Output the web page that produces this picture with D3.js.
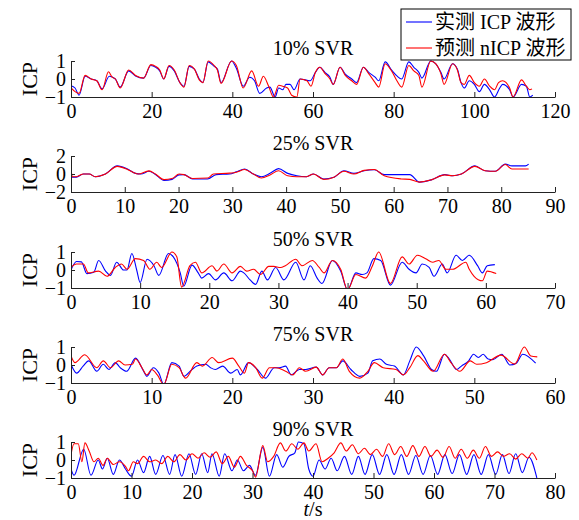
<!DOCTYPE html>
<html>
<head>
<meta charset="utf-8">
<script src="https://cdn.jsdelivr.net/npm/d3@7"></script>
<style>
    body { margin: 0; background: #fff; }
    text { font-family: "Liberation Serif", "Times New Roman", "Noto Sans CJK SC", serif; }
</style>
</head>
<body>
<svg id="chart" width="579" height="520"></svg>
<script>
// panel setup
const panelTitles = ["10% SVR", "25% SVR", "50% SVR", "75% SVR", "90% SVR"];
const xMaxes = [120, 90, 70, 60, 80];
const xTickStep = [20, 10, 10, 10, 10];
const yLimits = [1, 2, 1, 1, 1];
const seriesNames = ["实测 ICP 波形", "预测 nICP 波形"];
const seriesColors = ["#0000ff", "#ff0000"];

// [t, ICP] turning points
const icp10 = [[0,-0.37],[1,-0.5],[2,-0.9],[3.5,0.15],[5,0],[6.4,-0.1],[7.7,-0.55],[9.5,0.15],[11,0],[12.2,-0.45],[14.3,0.45],[16,0.17],[18,0.05],[19.8,0.75],[21,0.65],[22,0.45],[23,0],[24.3,0.7],[25.6,0.45],[27,-0.2],[28,-0.4],[29.3,0.7],[30.6,0.55],[31.8,0],[32.7,-0.2],[34,0.95],[35.5,0.7],[36.3,0.55],[37.2,-0.2],[39.8,1],[41,0.6],[42.7,-0.4],[44.3,0.1],[45.5,-0.1],[46.8,-0.8],[48.5,-0.5],[49.3,-0.45],[50.6,-1],[51.5,-0.5],[52.5,-0.6],[53.3,-0.3],[54.3,-0.3],[55.3,-0.6],[56.8,0],[59.3,-0.1],[60.6,0.37],[61.7,0.65],[63,0.35],[64.2,0.1],[65,-0.3],[66.7,0.65],[68,0.27],[69.6,0],[70.8,-0.2],[72.5,0.65],[73.8,0.37],[75.4,0.1],[76.3,-0.1],[77.9,0.95],[79.6,0.46],[80.8,0.17],[82,0],[83.75,0.95],[85,0.65],[86.25,0.37],[87,0.05],[89.2,1],[90.4,0.85],[91.7,0.37],[92.5,0],[94.6,0.85],[95.8,0.55],[96.7,-0.2],[97.5,-0.5],[98.75,-0.1],[100,-0.3],[101.25,-0.7],[102.5,-0.3],[103.8,-0.6],[105,-1],[106.3,-0.5],[107,-0.3],[108.75,-0.6],[109.6,-1],[111.7,-0.3],[112.9,-0.4],[113.75,-1],[114.5,-0.9]];
const nicp10 = [[0,-0.5],[1,-0.7],[2,-0.8],[3.5,0.2],[5,0],[6.4,-0.1],[7.7,-0.6],[9.3,0.4],[10.2,0.1],[11,0],[12.2,-0.5],[14.3,0.5],[16,0.2],[18,0.05],[19.8,0.8],[21,0.7],[22,0.5],[23,0],[24.3,0.75],[25.6,0.5],[27,-0.2],[28,-0.45],[29.3,0.75],[30.6,0.55],[31.8,-0.05],[32.7,-0.2],[34,1],[35.5,0.75],[36.3,0.5],[37.2,-0.25],[39.8,1],[41,0.75],[42.7,-0.5],[44.8,0.45],[46.5,-0.4],[47.7,0.15],[49,-0.4],[50.2,-1],[51.5,-0.35],[52.5,-0.4],[53.7,-0.5],[54.7,-0.9],[56,-1],[56.8,0],[58.5,-0.1],[59.5,-0.4],[60.6,0.37],[61.7,0.65],[63,0.3],[64.2,0],[65,-0.3],[66.7,0.65],[68,0.2],[69.6,-0.1],[70.8,-0.3],[72.5,0.65],[73.8,0.3],[75.4,-0.2],[76.3,-0.45],[77.9,0.85],[79.6,0.4],[80.8,-0.1],[82,-0.45],[83.75,0.75],[85,0.45],[86.25,0.2],[87,-0.45],[89.2,1],[90.4,0.85],[91.7,0.3],[92.5,-0.3],[94.6,0.85],[95.8,0.5],[96.7,-0.2],[97.5,-0.3],[98.75,0.2],[100,-0.2],[101.25,-0.4],[102.5,0],[103.8,-0.4],[105,-0.6],[106,-0.2],[107,-0.1],[108.75,-0.5],[109.6,-1],[111.7,-0.05],[112.9,-0.4],[113.75,-0.6],[114.3,-0.55]];

const icp25 = [[0,-0.35],[1,-0.35],[2.3,0],[3.4,0],[4.5,-0.3],[6.4,0],[8.6,0.9],[10.5,0.55],[12,0.07],[13,0],[14.5,0.3],[15.7,-0.05],[17.3,-0.72],[18.8,-0.6],[20.1,-0.1],[21,-0.07],[22.6,-0.55],[25.4,-0.55],[27,-0.07],[29.5,0],[30.75,0.25],[32.3,0.55],[33.9,0],[35.4,-0.3],[37,0.07],[38.6,0.6],[40.3,0.07],[42,-0.2],[43.8,-0.3],[45.1,0],[47,-0.55],[48.9,-0.35],[50.75,0.36],[52.6,0.07],[54.5,0.36],[56.4,0.47],[58.25,-0.07],[63,-0.07],[64.8,-0.9],[67,-0.65],[69.5,-0.07],[71,-0.2],[72.6,0],[75.1,0.9],[77,0.36],[78.9,0.3],[80.75,1.1],[82,0.9],[84.5,0.9],[85.1,1.1]];
const nicp25 = [[0,0.5],[0.3,-0.3],[1,-0.3],[2.3,0],[3.4,0],[4.5,-0.3],[6.4,0],[8.6,0.85],[10.5,0.5],[11.5,0.2],[12.5,0],[14.5,0.35],[15.7,0],[17.3,-0.62],[18.8,-0.5],[20.1,0],[21,-0.07],[22.6,-0.5],[25.4,-0.45],[26.5,0],[29.5,0.1],[30.75,0.2],[32.3,0.5],[33.9,0],[35.4,-0.45],[37,-0.1],[38.6,0.36],[40.3,-0.2],[42,-0.3],[43.8,-0.3],[45.1,0],[47,-0.6],[48.9,-0.35],[50.75,0.3],[52.6,0],[54.5,0.4],[56.4,0.5],[58.25,-0.2],[61.4,-0.55],[63,-0.6],[64.8,-0.9],[67,-0.65],[69.5,-0.1],[71,-0.2],[72.6,0],[75.1,0.85],[77,0.36],[78.9,0.3],[80.75,1.05],[82,0.55],[85.1,0.55]];

const icp50 = [[0,0],[0.8,0.47],[1.5,0.45],[2.3,-0.2],[3.3,-0.12],[4,0.53],[5,-0.06],[5.7,-0.3],[6.6,0.43],[7.6,0],[8.1,0],[8.8,0.92],[9.5,0],[10,-0.7],[11,0.6],[12,0.24],[12.7,-0.3],[14.1,0.92],[14.8,0.73],[15.8,-0.16],[16.3,-0.9],[17.5,0.27],[18.4,-0.16],[18.9,-0.45],[19.9,-0.2],[20.9,-0.55],[22.1,-0.16],[23.3,-0.6],[24.5,-0.06],[25,-0.16],[25.9,-0.55],[26.7,-0.8],[27.6,-0.06],[28.4,-0.55],[29.6,0.14],[30.8,-0.55],[32.5,0.43],[33.7,-0.55],[34.6,0.24],[35.6,-0.45],[36.3,-0.75],[37.8,0.53],[39,-0.06],[40,-1.1],[41.2,-0.16],[42.1,-0.25],[42.8,-0.16],[43.8,0.63],[44.8,0.53],[46.2,-0.84],[47.9,0.43],[48.9,0.04],[49.9,-0.16],[50.8,0.33],[51.8,0.14],[52.5,-0.35],[53.7,0.33],[54.4,-0.16],[55.7,0.82],[56.6,0.53],[57.6,0.82],[58.8,0.24],[59.5,-0.16],[60.2,0.24],[61.3,0.3]];
const nicp50 = [[0,0.14],[0.8,0.33],[1.8,0.33],[2.5,-0.16],[4,-0.06],[5.2,-0.35],[6.4,0.14],[7.3,0.33],[8.1,0.04],[9.3,0.63],[10.5,0.53],[11.4,0.04],[12.4,0.43],[13.1,0.14],[14.6,1],[15.3,0.73],[16,-0.95],[17.2,0.24],[18,0.43],[18.9,-0.16],[20.4,0.24],[21.1,-0.06],[22.1,0.33],[23.3,-0.16],[24.5,0.2],[25.4,-0.06],[26.4,0.04],[27.4,-0.25],[28.6,0.2],[29.3,0.2],[30.3,0.14],[31,0.24],[32.5,0.6],[33.4,0.24],[34.9,0.53],[35.9,0.14],[36.6,-0.16],[37.8,0.53],[39,0.04],[40,-1.1],[41.2,-0.25],[42.6,-0.45],[43.6,0.24],[44.5,1],[46.2,-0.75],[47.9,0.73],[48.9,0.33],[50.1,0.82],[51.3,0.63],[52.3,0.43],[53.2,0.53],[54.2,0.04],[55.2,0.04],[57.1,0.43],[57.6,0.04],[58.3,-0.35],[59.5,-0.6],[60.2,-0.06],[61.5,-0.2]];

const icp75 = [[0,0.04],[0.7,-0.45],[1.5,-0.06],[2.2,0.23],[3.2,-0.35],[4,0.04],[4.7,-0.25],[5.5,0.13],[6.1,-0.15],[6.9,-0.35],[8,0.38],[9,-0.35],[9.4,-0.63],[10.2,-0.15],[10.9,-0.45],[11.5,-1.08],[12.5,0.13],[13.4,-0.06],[14,-0.63],[15,-0.25],[15.6,-0.06],[16.7,0.04],[17.3,-0.15],[17.9,-0.25],[18.8,-0.06],[19.8,-0.45],[20.6,-0.25],[21,-0.55],[22,0.13],[23.1,-0.25],[24.1,-0.73],[25.2,-0.15],[25.8,-0.15],[26.6,-0.06],[27.3,-0.55],[28.3,-0.25],[29.1,-0.25],[30.4,-0.12],[31.2,-0.55],[32,-0.15],[32.9,-0.15],[33.7,0.23],[34.7,-0.25],[35.8,-0.63],[36.8,-0.45],[37.4,0.23],[38.3,0.33],[39.1,0.04],[40.1,-0.06],[41.2,-0.55],[42,0.23],[42.8,1],[43.7,0.52],[44.7,-0.25],[45.3,-0.35],[46.3,0.6],[46.9,0.33],[47.8,-0.25],[48.4,-0.06],[49.3,0.23],[49.9,0.6],[50.5,0.42],[51.1,0.6],[51.7,0.33],[52.3,0.3],[53.4,0.6],[54.4,0],[55.2,0.1],[56,0.6],[57.6,0.1]];
const nicp75 = [[0,0.5],[0.5,0.13],[1.7,0.57],[3.2,-0.15],[4,0.23],[4.9,-0.15],[5.9,0.23],[6.7,0],[7.6,0.04],[8,0.33],[8.8,-0.15],[9.4,-0.55],[10,-0.25],[10.7,-0.55],[11.5,-1.08],[12.5,0.04],[13.4,-0.15],[14.2,-0.73],[15.6,0.13],[16.3,-0.06],[17.5,0.42],[18.3,0.13],[20,0.38],[20.8,-0.06],[21.5,-0.45],[22,0.13],[22.9,-0.15],[23.7,-0.73],[24.6,-0.15],[25.4,-0.15],[26.6,-0.35],[27.5,-0.55],[28.3,-0.15],[29.1,-0.35],[30.4,-0.12],[31.2,-0.55],[32,-0.15],[32.9,-0.15],[33.7,0.33],[34.5,-0.35],[35.8,-0.73],[36.8,-0.35],[37.6,0.13],[38.7,-0.15],[40.3,-0.25],[41.2,-0.55],[42,-0.15],[43,0.52],[43.7,0.23],[44.9,-0.35],[46.3,0.6],[47.1,0.13],[48.2,-0.35],[49.5,0.23],[50.3,0.04],[51.5,0.13],[53.3,0.55],[55,0.05],[56.2,1],[57,0.5],[57.8,0.45]];

const icp90 = [[0,-0.5],[0.5,-0.85],[2.1,0.6],[3.3,-0.85],[4.5,0],[5.2,-0.5],[6,0.1],[7,-0.8],[8,0],[9,-0.5],[10,-0.9],[11,0],[12,-0.7],[13,0.2],[14,-0.8],[15.2,0.25],[16.3,-0.8],[17.2,0.3],[18.3,-0.9],[19.5,0.35],[20.6,-0.8],[21.6,0.35],[22.6,-0.7],[23.3,0.35],[24.5,-0.9],[25.4,0.35],[26.6,-0.6],[27.5,0],[28.5,-0.6],[29.5,-0.3],[30.5,-0.85],[31.7,0.7],[32.8,-0.9],[34,0.3],[35,-0.4],[36,0.2],[37,0.4],[37.6,1],[38.5,0.9],[39.3,-0.5],[40,-0.9],[41,0],[42,-0.5],[43,0.1],[44,-0.6],[45.2,0.2],[46.4,-0.8],[47.5,0.2],[48.6,-0.8],[49.8,0.3],[51,-0.8],[52.2,0.3],[53.4,-0.8],[54.6,0.3],[55.8,-0.8],[57,0.25],[58.2,-0.8],[59.4,0.25],[60.6,-0.8],[61.8,0.3],[63,-0.75],[64.2,0.3],[65.4,-0.8],[66.6,0.3],[67.8,-0.8],[69,0.3],[70.2,-0.8],[71.3,0.3],[72.4,-0.75],[73.5,0.35],[74.6,-0.7],[75.7,0.15],[77,-1]];
const nicp90 = [[0,0.3],[0.5,0.9],[1.2,0.9],[1.8,-0.1],[2.3,0.95],[3,0.5],[3.8,-0.1],[4.5,0.1],[5.3,-0.3],[6,0.1],[7,-0.25],[8,-0.1],[9,-0.35],[9.5,-0.6],[10.3,-0.1],[11,-0.2],[12,0.2],[13,-0.1],[14,0],[15,-0.2],[16,0.2],[17,-0.1],[18,0.3],[19,0],[20,0.35],[21,0.1],[22,0.4],[23,0.15],[24,0.45],[25,-0.2],[26,0.2],[27,-0.4],[28,0.2],[29,-0.3],[30,-0.6],[30.5,-0.95],[31.7,0.8],[32.5,-0.1],[33.5,0.2],[34.6,0.95],[35.5,0.5],[36.5,0.9],[37.5,0.6],[38.5,0.95],[39.3,0.5],[40.5,0.9],[41.5,-0.1],[42.5,0.1],[43.5,0.4],[44.6,0.95],[45.5,0.5],[46.5,0.85],[47.5,0.35],[48.5,0.65],[49.5,0.3],[50.5,0.6],[51.5,0.2],[52.5,0.9],[53.5,0.3],[54.5,0.75],[55.5,0.2],[56.5,0.8],[57.5,0.2],[58.5,0.75],[59.5,0.2],[60.5,0.55],[61.5,0.15],[62.5,0.75],[63.5,0.1],[64.5,0.6],[65.5,0.1],[66.5,0.55],[67.5,0.1],[68.5,0.75],[69.5,0.2],[70.5,0.45],[71.5,0.2],[72.5,0.35],[73.5,0.05],[74.5,0.35],[75.5,0.1],[76.2,0.4],[77,0]];

const measured = [icp10, icp25, icp50, icp75, icp90];
const predicted = [nicp10, nicp25, nicp50, nicp75, nicp90];

const LEFT = 71;
const PLOTW = 484;
const PLOTH = 36;
const TOPS = [61, 156, 252, 347, 442];
const FONT = 20;

let svg = d3.select('#chart');

let minus = d => d < 0 ? '\u2212' + Math.abs(d) : '' + d;

TOPS.forEach((top, i) => {
    let x = d3.scaleLinear().domain([0, xMaxes[i]]).range([0, PLOTW]);
    let y = d3.scaleLinear().domain([-yLimits[i], yLimits[i]]).range([PLOTH, 0]);

    let g = svg.append('g')
        .attr('transform', 'translate(' + LEFT + ',' + top + ')');

    g.append('clipPath')
        .attr('id', 'clip' + i)
        .append('rect')
        .attr('x', 0)
        .attr('y', -1)
        .attr('width', PLOTW)
        .attr('height', PLOTH + 2);

    let line = d3.line()
        .x(d => x(d[0]))
        .y(d => y(d[1]))
        .curve(d3.curveMonotoneX);

    [measured[i], predicted[i]].forEach((series, k) => {
        g.append('path')
            .datum(series)
            .attr('clip-path', 'url(#clip' + i + ')')
            .attr('d', line)
            .attr('fill', 'none')
            .attr('stroke', seriesColors[k])
            .attr('stroke-width', 1.1);
    });

    let xAxis = g.append('g')
        .attr('transform', 'translate(0,' + PLOTH + ')')
        .call(d3.axisBottom(x)
            .tickValues(d3.range(0, xMaxes[i] + 1, xTickStep[i]))
            .tickSizeInner(-5)
            .tickSizeOuter(0)
            .tickPadding(7));

    let yAxis = g.append('g')
        .call(d3.axisLeft(y)
            .tickValues([-yLimits[i], 0, yLimits[i]])
            .tickFormat(minus)
            .tickSizeInner(-4)
            .tickSizeOuter(0)
            .tickPadding(5));

    [xAxis, yAxis].forEach(ax => {
        ax.selectAll('path, line').attr('stroke', '#222');
        ax.selectAll('text')
            .attr('fill', '#000')
            .style('font-family', '"Liberation Serif", serif')
            .style('font-size', FONT + 'px');
    });

    g.append('text')
        .text(panelTitles[i])
        .attr('x', PLOTW / 2)
        .attr('y', -6)
        .attr('text-anchor', 'middle')
        .style('font-size', FONT + 'px');

    g.append('text')
        .text('ICP')
        .attr('transform', 'translate(' + (37 - LEFT) + ',' + (PLOTH / 2) + ') rotate(-90)')
        .attr('text-anchor', 'middle')
        .style('font-size', '22px');
});

// x label
let xl = svg.append('text')
    .attr('x', LEFT + PLOTW / 2)
    .attr('y', 516)
    .attr('text-anchor', 'middle')
    .style('font-size', FONT + 'px');
xl.append('tspan').text('t').style('font-style', 'italic');
xl.append('tspan').text('/s');

// legend on top of first panel
let legend = svg.append('g')
    .attr('transform', 'translate(401,9)');

legend.append('rect')
    .attr('width', 170)
    .attr('height', 51)
    .attr('fill', '#fff')
    .attr('stroke', '#000')
    .attr('stroke-width', 1);

seriesNames.forEach((name, k) => {
    legend.append('line')
        .attr('x1', 5)
        .attr('x2', 31)
        .attr('y1', 13 + k * 26)
        .attr('y2', 13 + k * 26)
        .attr('stroke', seriesColors[k])
        .attr('stroke-width', 1.1);
    legend.append('text')
        .text(name)
        .attr('x', 34)
        .attr('y', 20 + k * 26)
        .style('font-size', FONT + 'px');
});
</script>
</body>
</html>
